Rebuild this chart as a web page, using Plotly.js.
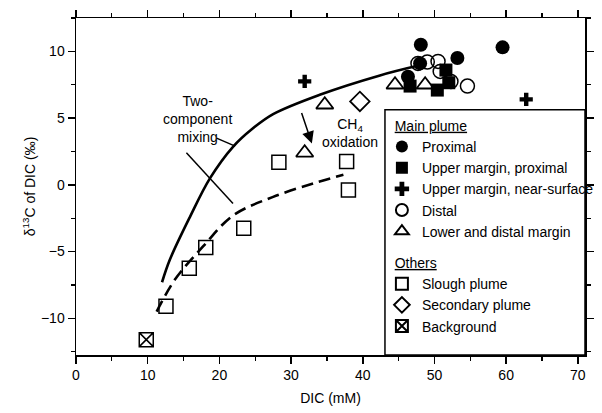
<!DOCTYPE html>
<html><head><meta charset="utf-8">
<script src="https://cdn.plot.ly/plotly-3.0.1.min.js"></script>
<style>html,body{margin:0;padding:0;background:#fff}</style>
</head><body><div id="chart" style="width:602px;height:413px"></div>
<script>
// Main plume
const proximalX = [48.1, 48.0, 53.2, 59.5, 46.3];
const proximalY = [10.5, 9.1, 9.5, 10.3, 8.1];
const upperProxX = [46.6, 50.4, 51.6, 52.0];
const upperProxY = [7.4, 7.1, 8.6, 7.65];
const nearSurfX = [31.9, 62.8];
const nearSurfY = [7.75, 6.4];
const distalX = [47.7, 49.0, 50.5, 50.8, 52.3, 54.6];
const distalY = [9.1, 9.2, 9.25, 8.5, 7.75, 7.4];
const lowerX = [31.9, 34.7, 44.5, 48.7];
const lowerY = [2.4, 6.0, 7.5, 7.5];
// Others
const sloughX = [12.55, 15.8, 18.1, 23.4, 28.3, 37.75, 38.0];
const sloughY = [-9.1, -6.25, -4.7, -3.25, 1.7, 1.75, -0.38];
const secondaryX = [39.6];
const secondaryY = [6.25];
const backgroundX = [9.8];
const backgroundY = [-11.6];
// Curves
const mixX = [12.0, 13.1, 15.9, 18.7, 21.9, 24.6, 27.5, 34.0, 42.4, 47.5];
const mixY = [-7.3, -5.6, -2.4, 0.5, 2.85, 4.2, 5.3, 6.75, 8.2, 8.9];
const oxX = [11.25, 13.8, 17.75, 21.9, 27.5, 33.1, 37.3];
const oxY = [-9.5, -7.1, -4.6, -2.3, -0.9, 0.1, 0.75];

const F = 'Liberation Sans, Arial, sans-serif';
function pts(x, y, name, grp, symbol, size, lw, rank) {
  return {x: x, y: y, type: 'scatter', mode: 'markers', name: name,
    legendgroup: grp, legendrank: rank, cliponaxis: false,
    marker: {symbol: symbol, size: size, color: 'black',
      line: {color: 'black', width: lw}}};
}
const traces = [
  {x: mixX, y: mixY, type: 'scatter', mode: 'lines', line: {color: 'black', width: 2.6, shape: 'spline', smoothing: 1}, showlegend: false, hoverinfo: 'skip'},
  {x: oxX, y: oxY, type: 'scatter', mode: 'lines', line: {color: 'black', width: 2.6, dash: '12px,6px', shape: 'spline', smoothing: 1}, showlegend: false, hoverinfo: 'skip'},
  pts(distalX, distalY, 'Distal', 'main', 'circle-open', 14, 1.5, 4),
  pts(lowerX, lowerY, 'Lower and distal margin', 'main', 'triangle-up-open', 15, 1.8, 5),
  pts(proximalX, proximalY, 'Proximal', 'main', 'circle', 14, 0, 1),
  pts(upperProxX, upperProxY, 'Upper margin, proximal', 'main', 'square', 13, 0, 2),
  pts(nearSurfX, nearSurfY, 'Upper margin, near-surface', 'main', 'cross', 11, 0, 3),
  pts(sloughX, sloughY, 'Slough plume', 'others', 'square-open', 14, 1.5, 6),
  pts(secondaryX, secondaryY, 'Secondary plume', 'others', 'diamond-open', 15, 1.8, 7),
  pts(backgroundX, backgroundY, 'Background', 'others', 'square-x-open', 14, 1.5, 8)
];
traces.find(t => t.name === 'Proximal').legendgrouptitle = {text: '&nbsp;&nbsp;<u>Main plume</u>', font: {family: F, size: 14, color: 'black'}};
traces.find(t => t.name === 'Slough plume').legendgrouptitle = {text: '&nbsp;&nbsp;<u>Others</u>', font: {family: F, size: 14, color: 'black'}};

const axisCommon = {showline: true, linecolor: 'black', linewidth: 1.5, mirror: 'allticks',
  ticks: 'outside', ticklen: 7, tickwidth: 1.5, tickcolor: 'black', showgrid: false, zeroline: false,
  tickfont: {family: F, size: 14, color: 'black'}};
const layout = {
  width: 602, height: 413,
  margin: {l: 76, r: 17, t: 18, b: 58, autoexpand: false},
  paper_bgcolor: 'white', plot_bgcolor: 'white',
  font: {family: F, size: 14, color: 'black'},
  showlegend: true,
  xaxis: Object.assign({}, axisCommon, {range: [0, 71], dtick: 10, tick0: 0,
    minor: {dtick: 5, ticks: 'outside', ticklen: 4, tickwidth: 1.2, tickcolor: 'black'},
    title: {text: 'DIC (mM)', font: {family: F, size: 14, color: 'black'}, standoff: 11}}),
  yaxis: Object.assign({}, axisCommon, {range: [-12.75, 12.5], dtick: 5, tick0: 0,
    minor: {dtick: 2.5, ticks: 'outside', ticklen: 4, tickwidth: 1.2, tickcolor: 'black'},
    title: {text: 'δ<sup>13</sup>C of DIC (‰)', font: {family: F, size: 14, color: 'black'}, standoff: 2}}),
  legend: {x: 0.601, y: 0.728, xanchor: 'left', yanchor: 'top', bgcolor: 'rgba(0,0,0,0)',
    borderwidth: 0, font: {family: F, size: 14, color: 'black'}, traceorder: 'grouped',
    tracegroupgap: 10, itemsizing: 'constant'},
  shapes: [
    {type: 'rect', xref: 'paper', yref: 'paper', x0: 0.607, x1: 1, y0: 0, y1: 0.728,
      line: {color: 'black', width: 1.5}, fillcolor: 'white', layer: 'below'},
    {type: 'line', xref: 'x', yref: 'y', x0: 19.6, y0: 3.5, x1: 22.2, y1: 2.9, line: {color: 'black', width: 1.5}},
    {type: 'line', xref: 'x', yref: 'y', x0: 15.4, y0: 2.4, x1: 21.9, y1: -1.4, line: {color: 'black', width: 1.5}}
  ],
  annotations: [
    {x: 17.0, y: 4.9, xref: 'x', yref: 'y', text: 'Two-<br>component<br>mixing', showarrow: false,
      font: {family: F, size: 14, color: 'black'}, align: 'center'},
    {x: 38.2, y: 3.9, xref: 'x', yref: 'y', text: 'CH<sub>4</sub><br>oxidation', showarrow: false,
      font: {family: F, size: 14, color: 'black'}, align: 'center'},
    {x: 32.9, y: 3.1, ax: 31.4, ay: 5.5, xref: 'x', yref: 'y', axref: 'x', ayref: 'y', text: '',
      showarrow: true, arrowhead: 2, arrowsize: 1.6, arrowwidth: 1.5, arrowcolor: 'black'}
  ]
};
Plotly.newPlot('chart', traces, layout, {displayModeBar: false, staticPlot: true});
</script></body></html>
